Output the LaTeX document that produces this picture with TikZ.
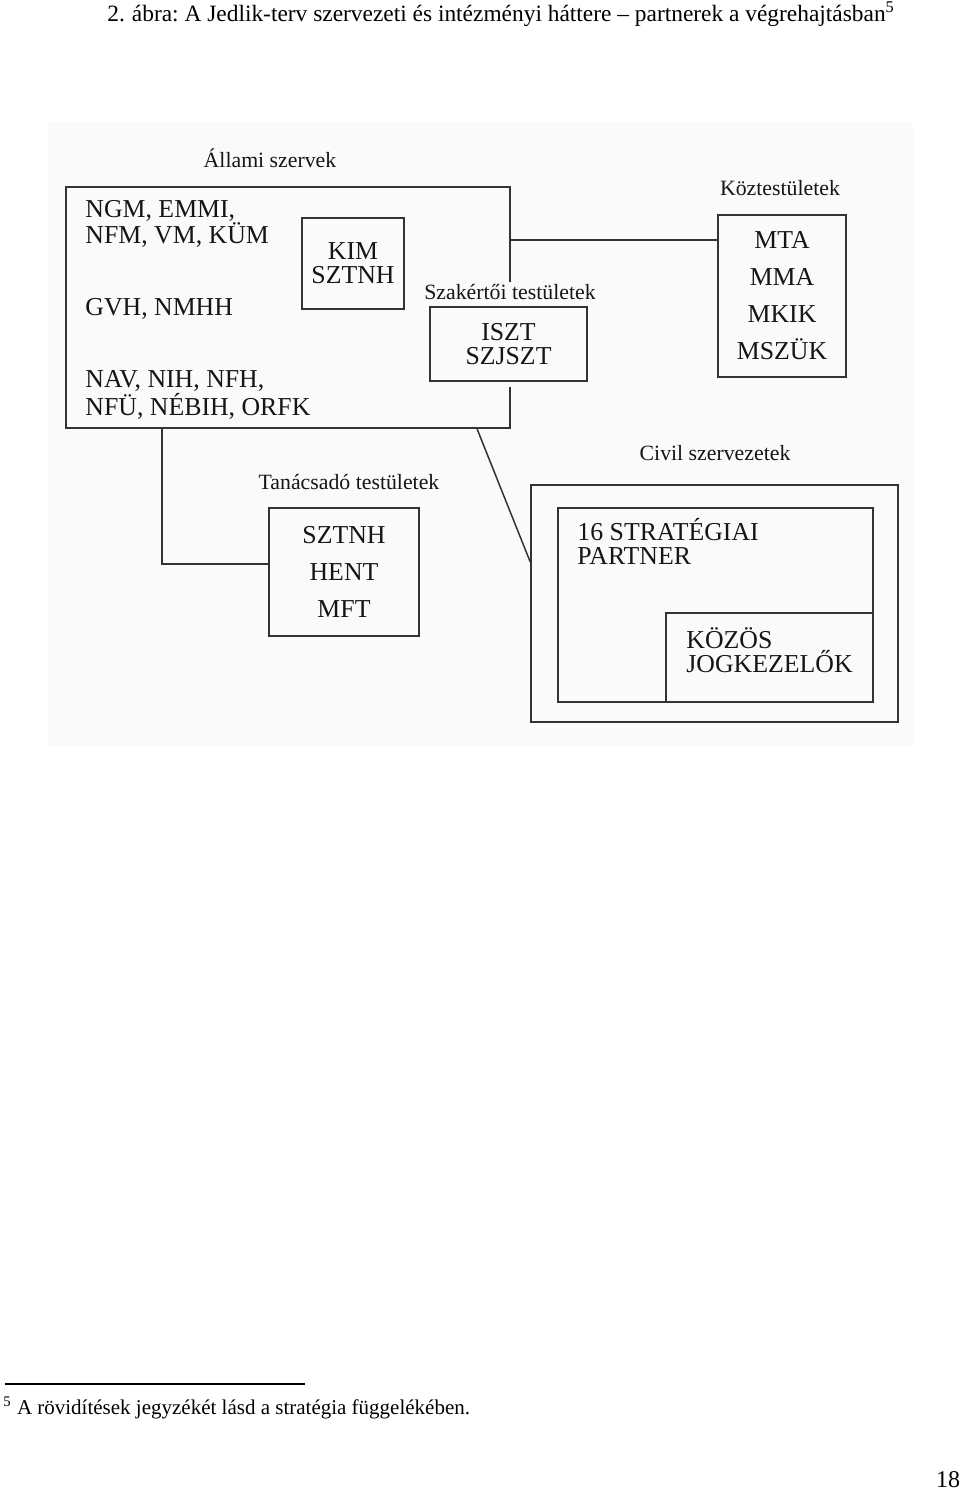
\documentclass[tikz,border=0pt]{standalone}
\usepackage{fontspec}
\setmainfont{Liberation Serif}
\usepackage{xcolor}
\usetikzlibrary{positioning,fit}
\frenchspacing
\definecolor{linec}{HTML}{333333}
\definecolor{inkc}{HTML}{151515}
\definecolor{panelc}{HTML}{FAFAFA}
\tikzset{
  ln/.style={linec,line width=0.75pt},
  box/.style={draw=linec,line width=0.75pt,inner sep=0pt,fill=panelc},
  lbl/.style={text=inkc,font=\fontsize{10.9}{12}\selectfont,inner sep=1pt},
  txt/.style={text=inkc,font=\fontsize{12.9}{12}\selectfont,inner sep=0pt,align=left,anchor=west},
  ctxt/.style={text=inkc,font=\fontsize{12.9}{18.5}\selectfont,inner sep=0pt,align=center}
}

\begin{document}
\begin{tikzpicture}[x=0.5pt,y=-0.5pt]
\useasboundingbox (0,0) rectangle (960,1491);
% page text
\node[anchor=west,font=\fontsize{11.7}{12}\selectfont,inner sep=0pt] (title) at (107,14)
  {2.\hspace{0.3em}ábra: A Jedlik-terv szervezeti és intézményi háttere -- partnerek a végrehajtásban\textsuperscript{5}};
\fill[panelc] (48,123) rectangle (913,745);
% allami szervek
\node[lbl] (allamil) at (270,158) {Állami szervek};
\node[box,fit={(66,187) (510,428)}] (allami) {};
\node[txt] (ngm) at (85,224) {NGM, EMMI,\\NFM, VM, KÜM};
\node[txt] (gvh) at (85,309) {GVH, NMHH};
\node[txt] (nav) at (85,395) {NAV, NIH, NFH,\\NFÜ, NÉBIH, ORFK};
\node[box,fit={(302,218) (404,309)}] (kim) {};
\node[ctxt,font=\fontsize{12.9}{12}\selectfont] (kimt) at (kim.center) {KIM\\SZTNH};
% szakertoi
\node[lbl,fill=panelc] (szakl) at (510,292) {Szakértői testületek};
\node[box,fit={(430,307) (587,381)},preaction={draw=panelc,line width=6pt}] (iszt) {};
\node[ctxt,font=\fontsize{12.9}{12}\selectfont] (isztt) at (iszt.center) {ISZT\\SZJSZT};
% kozt.
\node[lbl] (kozl) at (780,188) {Köztestületek};
\node[box,fit={(718,215) (846,377)}] (koz) {};
\node[ctxt] (kozt) at (koz.center) {MTA\\MMA\\MKIK\\MSZÜK};
% tanacsado
\node[lbl] (tanl) at (349,482) {Tanácsadó testületek};
\node[box,fit={(269,508) (419,636)}] (tan) {};
\node[ctxt] (tant) at (tan.center) {SZTNH\\HENT\\MFT};
% civil
\node[lbl] (civl) at (715,453) {Civil szervezetek};
\node[box,fit={(531,485) (898,722)}] (civil) {};
\node[box,fit={(558,508) (873,702)}] (strat) {};
\node[box,fit={(666,613) (873,702)}] (kozos) {};
\node[txt] (stratt) at (577,541) {16 STRATÉGIAI\\PARTNER};
\node[txt] (kozost) at (686,650) {KÖZÖS\\JOGKEZELŐK};
% connectors
\coordinate (kc) at (509,240);
\coordinate (tc) at (162,564);
\coordinate (dc) at (477,0);
\coordinate (cc) at (0,562);
\draw[ln] (kc) -- (koz.west |- kc);
\draw[ln] (allami.south -| tc) -- (tc) -- (tan.west |- tc);
\draw[ln] (allami.south -| dc) -- (civil.west |- cc);
% footnote
\coordinate (fa) at (5,1384);
\coordinate (fb) at (305,1384);
\draw[black,line width=0.6pt] (fa) -- (fb);
\node[anchor=west,font=\fontsize{10.5}{12}\selectfont,inner sep=0pt] (fnote) at (3,1408)
  {\textsuperscript{5} A rövidítések jegyzékét lásd a stratégia függelékében.};
\node[font=\fontsize{12}{12}\selectfont,inner sep=0pt] (pnum) at (948,1480) {18};
\end{tikzpicture}
\end{document}
